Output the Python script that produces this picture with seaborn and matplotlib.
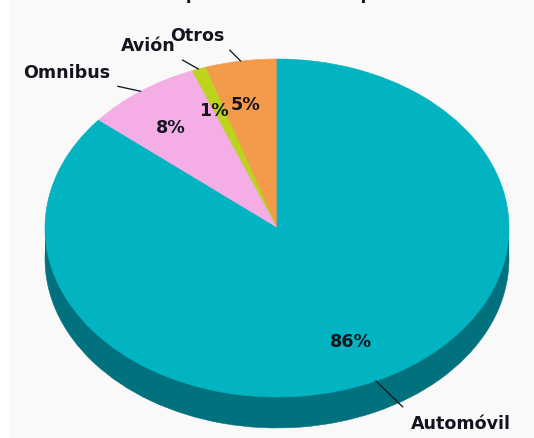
import numpy as np
import matplotlib
matplotlib.use("Agg")
import matplotlib.pyplot as plt
from matplotlib.patches import Rectangle
import seaborn as sns

# Transport modes, listed counter-clockwise from twelve o'clock
modes = ["Otros", "Avión", "Omnibus", "Automóvil"]
shares = [5, 1, 8, 86]
top_colors = ["#F39B4B", "#BDD41E", "#F5ADE6", "#02B3C1"]
side_colors = ["#B0702F", "#8A9A15", "#B37EA8", "#02717E"]
heading = "Principal medio de transporte"

sns.set_theme(style="white")
plt.rcParams["font.family"] = ["DejaVu Sans"]
INK = "#14141F"

W, H = 534, 438
fig = plt.figure(figsize=(W / 72, H / 72), dpi=72, facecolor="white")

# Off-white panel behind the chart, with a narrow white strip on the left
fig.add_artist(Rectangle((10 / W, 0), 1, 1, transform=fig.transFigure,
                         facecolor="#F9F9F9", edgecolor="none", zorder=-5))

ax = fig.add_axes([0, 0, 1, 1])
ax.patch.set_visible(False)

RX, RY, CX, CY, DEPTH = 232, 169, 277, 228, 31
d = DEPTH / RY

# Extruded side: a darker copy of the pie shifted down, joined by a band
ax.pie(shares, colors=side_colors, startangle=90, center=(0, -d), radius=1,
       wedgeprops=dict(linewidth=0.5, edgecolor="#02717E"))
ax.add_patch(Rectangle((-1, -d), 2, d, facecolor=side_colors[-1],
                       edgecolor="none", zorder=0.5))

wedges, _, pct = ax.pie(
    shares, colors=top_colors, startangle=90, radius=1,
    autopct=lambda p: f"{p:.0f}%", pctdistance=0.745,
    wedgeprops=dict(linewidth=0.6),
    textprops=dict(fontsize=17.5, fontweight="bold", color=INK),
)
for w, c in zip(wedges, top_colors):
    w.set_edgecolor(c)

# The narrow slices share little room, so their percentages lean slightly left
for t in pct[:3]:
    t.set_position((t.get_position()[0] - 4.5 / RX, t.get_position()[1] - 1.5 / RY))

# The pie is viewed at a tilt, so the axes stretch it into an ellipse
ax.set_aspect("auto")
ax.set_xlim(-CX / RX, (W - CX) / RX)
ax.set_ylim((CY - H) / RY, CY / RY)
ax.set_axis_off()

# Leader line end and label centre, as pixel offsets from each slice's rim point
callouts = {
    "Otros": ((-11, 11), (-43, 25)),
    "Avión": ((-16, 9), (-50, 23)),
    "Omnibus": ((-23, 5), (-74, 18)),
    "Automóvil": ((27, -26), (85, -43)),
}
for wedge, name in zip(wedges, modes):
    mid = np.deg2rad((wedge.theta1 + wedge.theta2) / 2)
    rim = (np.cos(mid), np.sin(mid))
    line_end, label_pos = callouts[name]
    ax.annotate("", xy=rim, xytext=line_end, textcoords="offset points",
                arrowprops=dict(arrowstyle="-", color=INK, lw=1.3,
                                shrinkA=0, shrinkB=0), zorder=6)
    ax.annotate(name, xy=rim, xytext=label_pos, textcoords="offset points",
                ha="center", va="center", fontsize=17.5, fontweight="bold",
                color=INK, zorder=7)

# Heading sits against the top edge of the figure, mostly cut off by it
fig.text(272 / W, 1 - 3 / H, heading, ha="center", va="bottom", fontsize=16.5,
         fontweight="bold", color=INK)

fig.savefig("out.png", dpi=72)
